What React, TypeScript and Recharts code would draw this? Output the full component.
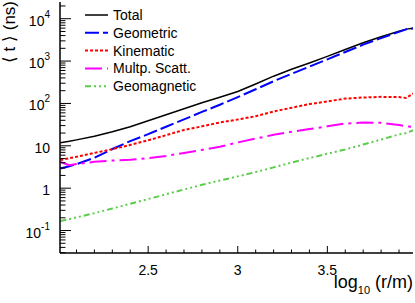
import React from "react";
import { LineChart, Line, XAxis, YAxis, Legend } from "recharts";

const xs = [2.01, 2.06, 2.1, 2.2, 2.3, 2.4, 2.5, 2.6, 2.7, 2.8, 2.9, 3.0, 3.1, 3.2, 3.3, 3.4, 3.5, 3.6, 3.7, 3.8, 3.9, 3.94, 3.98];
const total = [11.8, 12.8, 13.8, 16.8, 21.4, 28.2, 39, 54, 75, 104, 140, 192, 288, 440, 640, 900, 1290, 1870, 2700, 3740, 5040, 5680, 5930];
const geometric = [2.9, 3.3, 3.7, 5.2, 8.4, 12.9, 18.8, 28.2, 42, 63, 93, 141, 216, 335, 500, 741, 1100, 1640, 2440, 3490, 4900, 5600, 5900];
const kinematic = [4.6, 5.1, 5.5, 6.8, 8.3, 10.5, 13.5, 17.8, 23.7, 28.8, 35.5, 41.7, 50, 64.6, 79, 96.6, 112, 130, 138, 143, 141, 135, 172];
const multScatt = [4.16, 3.5, 3.7, 4.2, 4.5, 4.7, 5.1, 5.75, 6.8, 8.0, 9.5, 12, 14.8, 18.2, 21.4, 24.8, 28.8, 33.5, 35.5, 35, 31, 29, 28];
const geomagnetic = [0.168, 0.185, 0.204, 0.257, 0.331, 0.427, 0.555, 0.716, 0.933, 1.2, 1.51, 1.9, 2.4, 3.1, 4.03, 5.13, 6.5, 8.2, 10.7, 14.1, 18.6, 20, 23.4];

const seriesKeys = ["total", "geometric", "kinematic", "mult", "geomag"];
const seriesNames = ["Total", "Geometric", "Kinematic", "Multp. Scatt.", "Geomagnetic"];
const seriesColors = ["#000000", "#0000ff", "#ff0000", "#ff00ff", "#5ccc4c"];
const seriesDash = ["", "14 4", "3 2", "17 5 3 5", "6 3 2 3 2 3 2 3"];
const seriesWidth = [1.5, 2, 2, 2, 2];

const xMajorTicks = [2.5, 3, 3.5];
const xMajorLabels = ["2.5", "3", "3.5"];
const xMinorTicks = [2.1, 2.2, 2.3, 2.4, 2.6, 2.7, 2.8, 2.9, 3.1, 3.2, 3.3, 3.4, 3.6, 3.7, 3.8, 3.9];
const yMajorTicks = [0.1, 1, 10, 100, 1000, 10000];
const yMajorBase = ["10", "1", "10", "10", "10", "10"];
const yMajorExp = ["-1", "", "", "2", "3", "4"];

const xDomain = [2.008, 3.978];
const yDomain = [0.0295, 24800];

const data = xs.map((x, i) => ({
  x,
  total: total[i],
  geometric: geometric[i],
  kinematic: kinematic[i],
  mult: multScatt[i],
  geomag: geomagnetic[i],
}));

const yMinor: number[] = [];
yMajorTicks.concat([0.01]).forEach((d) => {
  for (let k = 2; k <= 9; k++) {
    const v = d * k;
    if (v > yDomain[0] && v < yDomain[1]) yMinor.push(v);
  }
});
const yTicks = yMajorTicks.concat(yMinor).sort((a, b) => a - b);
const xTicks = xMajorTicks.concat(xMinorTicks).sort((a, b) => a - b);

const FONT = "'Liberation Sans', Arial, Helvetica, sans-serif";
const TICK_COLOR = "#000000";
const TICK_W = 1;

const YTick = (props: any) => {
  const { x, y, payload } = props;
  const v = payload.value;
  const idx = yMajorTicks.findIndex((m) => Math.abs(m - v) / m < 1e-6);
  if (idx < 0) {
    return <line x1={x} x2={x + 5.5} y1={y} y2={y} stroke={TICK_COLOR} strokeWidth={TICK_W} />;
  }
  return (
    <g>
      <line x1={x} x2={x + 11} y1={y} y2={y} stroke={TICK_COLOR} strokeWidth={TICK_W} />
      <text x={x - 10} y={y + 7} textAnchor="end" fontSize={14} fontFamily={FONT} fill="#000">
        {yMajorExp[idx] ? (
          <>
            <tspan>{yMajorBase[idx]}</tspan>
            <tspan fontSize={10} dy={-8}>{yMajorExp[idx]}</tspan>
          </>
        ) : (
          <tspan>{yMajorBase[idx]}</tspan>
        )}
      </text>
    </g>
  );
};

const XTick = (props: any) => {
  const { x, y, payload } = props;
  const v = payload.value;
  const idx = xMajorTicks.findIndex((m) => Math.abs(m - v) < 1e-6);
  if (idx < 0) {
    return <line x1={x} x2={x} y1={y} y2={y - 3.5} stroke={TICK_COLOR} strokeWidth={TICK_W} />;
  }
  return (
    <g>
      <line x1={x} x2={x} y1={y} y2={y - 7} stroke={TICK_COLOR} strokeWidth={TICK_W} />
      <text x={x} y={y + 22} textAnchor="middle" fontSize={14} fontFamily={FONT} fill="#000">
        {xMajorLabels[idx]}
      </text>
    </g>
  );
};

const XTitle = (props: any) => {
  const vb = props.viewBox || {};
  const right = (vb.x || 0) + (vb.width || 0);
  const top = vb.y || 0;
  return (
    <text x={right} y={top + 35} textAnchor="end" fontSize={18} fontFamily={FONT} fill="#000">
      <tspan>log</tspan>
      <tspan fontSize={11} dy={6}>10</tspan>
      <tspan dy={-6}> (r/m)</tspan>
    </text>
  );
};

const YTitle = () => (
  <text
    transform="translate(15,1) rotate(-90)"
    textAnchor="end"
    fontSize={17}
    fontFamily={FONT}
    fill="#000"
  >
    ⟨ t ⟩ (ns)
  </text>
);

const renderLegend = () => (
  <svg width={150} height={100} style={{ display: "block" }}>
    {seriesNames.map((name, i) => {
      const cy = 10 + i * 17.8;
      return (
        <g key={name}>
          <line
            x1={5}
            x2={28}
            y1={cy}
            y2={cy}
            stroke={seriesColors[i]}
            strokeWidth={seriesWidth[i]}
            strokeDasharray={seriesDash[i] || undefined}
          />
          <text x={33} y={cy + 5} fontSize={14} fontFamily={FONT} fill="#000">
            {name}
          </text>
        </g>
      );
    })}
  </svg>
);

export default function App() {
  return (
    <div style={{ position: "absolute", left: 0, top: 0, width: 415, height: 303, background: "#fff" }}>
      <LineChart width={415} height={303} data={data} margin={{ top: 2, right: 2, bottom: 0, left: 0 }}>
        <XAxis
          dataKey="x"
          type="number"
          domain={xDomain}
          allowDataOverflow
          ticks={xTicks}
          interval={0}
          tickSize={0}
          tickMargin={0}
          tickLine={false}
          tick={<XTick />}
          height={50}
          axisLine={{ stroke: "#000", strokeWidth: 1.5 }}
          label={<XTitle />}
        />
        <XAxis
          xAxisId="top"
          orientation="top"
          dataKey="x"
          type="number"
          domain={xDomain}
          allowDataOverflow
          height={0}
          tick={false}
          tickLine={false}
          axisLine={{ stroke: "#000", strokeWidth: 1.5 }}
        />
        <YAxis
          scale="log"
          type="number"
          domain={yDomain}
          allowDataOverflow
          ticks={yTicks}
          interval={0}
          tickSize={0}
          tickMargin={0}
          tickLine={false}
          tick={<YTick />}
          width={60}
          axisLine={{ stroke: "#000", strokeWidth: 1.5 }}
          label={<YTitle />}
        />
        <YAxis
          yAxisId="right"
          orientation="right"
          type="number"
          domain={[0, 1]}
          width={0}
          tick={false}
          tickLine={false}
          axisLine={{ stroke: "#000", strokeWidth: 1.5 }}
        />
        <Legend
          layout="vertical"
          align="center"
          verticalAlign="middle"
          content={renderLegend}
          wrapperStyle={{ left: 80, top: 5, width: 150, height: 100 }}
        />
        {seriesKeys.map((k, i) => (
          <Line
            key={k}
            dataKey={k}
            name={seriesNames[i]}
            type="linear"
            stroke={seriesColors[i]}
            strokeWidth={seriesWidth[i]}
            strokeDasharray={seriesDash[i] || undefined}
            dot={false}
            activeDot={false}
            isAnimationActive={false}
          />
        ))}
      </LineChart>
    </div>
  );
}
